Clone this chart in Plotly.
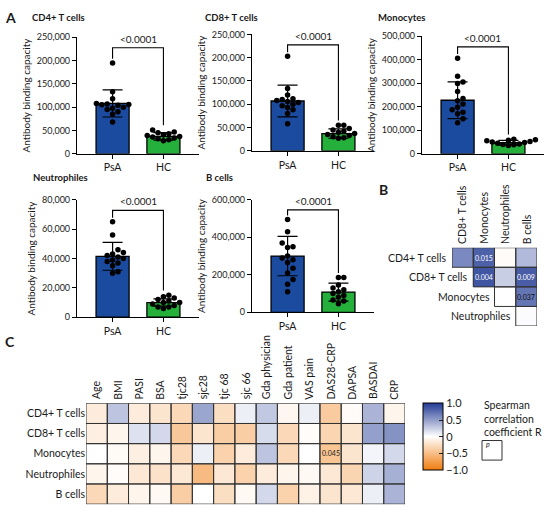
import plotly.graph_objects as go

W, H = 550, 515
FONT = "Lato"

# ---------------- Panel A data ----------------
groups = ["PsA", "HC"]
bar_titles = ["CD4+ T cells", "CD8+ T cells", "Monocytes", "Neutrophiles", "B cells"]

cd4_psa = [195000, 133000, 118000, 108000, 107000, 106000, 105000, 104000, 100000, 98000, 95000, 90000, 85000, 68000]
cd4_hc = [51000, 47000, 45000, 43000, 41000, 39000, 37000, 36000, 34000, 32000, 30000, 28000]
cd8_psa = [203000, 134000, 120000, 112000, 110000, 108000, 106000, 104000, 100000, 97000, 93000, 88000, 80000, 58000]
cd8_hc = [55000, 55000, 48000, 45000, 42000, 40000, 37000, 35000, 33000, 30000, 28000, 27000]
mono_psa = [407000, 330000, 306000, 299000, 265000, 235000, 226000, 212000, 198000, 187000, 177000, 170000, 149000, 132000]
mono_hc = [62000, 60000, 58000, 55000, 52000, 50000, 48000, 45000, 42000, 40000, 38000, 35000]
neut_psa = [65000, 56000, 46000, 44000, 43000, 42000, 41000, 40000, 39000, 38000, 37000, 35000, 31000, 30000]
neut_hc = [15000, 14000, 13000, 12000, 11000, 10000, 10000, 9000, 8000, 7000, 7000, 6000]
bcell_psa = [495000, 430000, 370000, 350000, 345000, 300000, 290000, 280000, 265000, 235000, 210000, 175000, 150000, 110000]
bcell_hc = [185000, 185000, 145000, 130000, 120000, 110000, 100000, 90000, 80000, 65000, 60000, 45000]

bar_means = [[108000, 37500], [107000, 37000], [228000, 47000], [41500, 10000], [300000, 108000]]
bar_sds = [[29000, 8000], [34000, 10000], [78000, 10000], [9500, 2500], [105000, 48000]]
y_max = [250000, 250000, 500000, 80000, 600000]
y_dtick = [50000, 50000, 100000, 20000, 200000]
p_label = "<0.0001"

points = [(cd4_psa, cd4_hc), (cd8_psa, cd8_hc), (mono_psa, mono_hc),
          (neut_psa, neut_hc), (bcell_psa, bcell_hc)]

# ---------------- Panel B data ----------------
b_cols = ["CD8+ T cells", "Monocytes", "Neutrophiles", "B cells"]
b_rows = ["CD4+ T cells", "CD8+ T cells", "Monocytes", "Neutrophiles"]
b_r = [[0.60, 0.80, -0.03, 0.35],
       [None, 0.86, 0.25, 0.82],
       [None, None, 0.00, 0.70],
       [None, None, None, 0.02]]
b_p = [["", "0.015", "", ""],
       ["", "0.004", "", "0.009"],
       ["", "", "", "0.037"],
       ["", "", "", ""]]

# ---------------- Panel C data ----------------
c_cols = ["Age", "BMI", "PASI", "BSA", "tjc28", "sjc28", "tjc 68", "sjc 66", "Gda physician",
          "Gda patient", "VAS pain", "DAS28-CRP", "DAPSA", "BASDAI", "CRP"]
c_rows = ["CD4+ T cells", "CD8+ T cells", "Monocytes", "Neutrophiles", "B cells"]
c_r = [[-0.15, 0.30, -0.15, -0.20, -0.30, 0.45, -0.25, 0.08, 0.28, -0.06, 0.08, -0.40, -0.03, 0.38, -0.08],
       [-0.12, -0.08, 0.15, 0.20, -0.42, -0.20, -0.38, -0.38, 0.18, -0.30, -0.02, -0.32, -0.20, 0.48, 0.55],
       [0.00, -0.04, -0.12, -0.08, -0.30, 0.08, -0.35, -0.15, 0.30, -0.30, 0.00, -0.45, -0.20, 0.05, 0.20],
       [-0.08, -0.02, -0.18, -0.22, -0.18, -0.52, -0.18, -0.35, -0.15, -0.08, -0.05, -0.18, -0.32, 0.22, 0.40],
       [-0.30, -0.15, -0.08, -0.05, -0.38, 0.00, -0.25, -0.05, 0.20, -0.35, -0.10, -0.20, -0.18, 0.08, 0.38]]
c_p = [[""] * 15 for _ in range(5)]
c_p[2][11] = "0.045"

cbar_vals = [-1, -0.5, 0, 0.5, 1]
cbar_text = ["\u22121.0", "\u22120.5", "0", "0.5", "1.0"]

# ---------------- styling / layout ----------------
BLUE = "#1a4b9f"
GREEN = "#25b03c"
colorscale = [[0, "rgb(240,125,15)"], [0.5, "rgb(255,255,255)"], [1, "rgb(33,58,148)"]]

# plot boxes in px: (left, right, top, bottom)
boxes = [(77, 199, 32, 151), (252, 374, 29, 148), (422, 544, 31, 151),
         (77, 199, 198, 318), (252, 374, 198, 313)]
title_pos = [(30, 12), (203, 12), (376, 12), (31, 175), (204, 175)]
XR = [-0.7, 1.7]
B_BOX = (452, 537, 247, 327)
C_BOX = (86, 405, 406, 509)


def xd(a, b):
    return [a / W, b / W]


def yd(top, bot):
    return [1 - bot / H, 1 - top / H]


def swarm(vals, ymax, hpx, wpx, d=5.4):
    scale = hpx / ymax
    unit = wpx / (XR[1] - XR[0])
    order = sorted(range(len(vals)), key=lambda i: vals[i])
    placed = []
    offs = [0.0] * len(vals)
    cands = [0.0]
    for m in range(1, 12):
        cands += [m * d, -m * d]
    for i in order:
        ypx = vals[i] * scale
        for c in cands:
            if all((c - px) ** 2 + (ypx - py) ** 2 >= d * d for px, py in placed):
                placed.append((c, ypx))
                offs[i] = c / unit
                break
    return offs


fig = go.Figure()
layout = dict(width=W, height=H, margin=dict(l=0, r=0, t=0, b=0),
              paper_bgcolor="white", plot_bgcolor="white", showlegend=False,
              font=dict(family=FONT, color="#1a1a1a"))
shapes = []
annotations = []

for k in range(5):
    n = k + 1
    xa = "x" if n == 1 else f"x{n}"
    ya = "y" if n == 1 else f"y{n}"
    l, r, t, b = boxes[k]
    fig.add_trace(go.Bar(x=[0, 1], y=bar_means[k], width=0.65, xaxis=xa, yaxis=ya,
                         marker=dict(color=[BLUE, GREEN], line=dict(color="black", width=1.3)),
                         error_y=dict(type="data", array=bar_sds[k], color="black", thickness=1.2, width=10),
                         hoverinfo="skip"))
    psa, hc = points[k]
    for gi, vals in enumerate((psa, hc)):
        offs = swarm(vals, y_max[k], b - t, r - l)
        fig.add_trace(go.Scatter(x=[gi + o for o in offs], y=vals, mode="markers", xaxis=xa, yaxis=ya,
                                 marker=dict(color="black", size=5.5), hoverinfo="skip"))
    layout["xaxis" if n == 1 else f"xaxis{n}"] = dict(
        domain=xd(l, r), anchor=ya, range=XR, tickvals=[0, 1], ticktext=groups,
        showline=True, linecolor="black", linewidth=1.2, ticks="outside", ticklen=4,
        tickcolor="black", tickfont=dict(size=10.5), showgrid=False, zeroline=False, fixedrange=True)
    layout["yaxis" if n == 1 else f"yaxis{n}"] = dict(
        domain=yd(t, b), anchor=xa, range=[0, y_max[k]], dtick=y_dtick[k], tickformat=",d",
        showline=True, linecolor="black", linewidth=1.2, ticks="outside", ticklen=4,
        tickcolor="black", tickfont=dict(size=9), showgrid=False, zeroline=False,
        title=dict(text="Antibody binding capacity", font=dict(size=10), standoff=4), fixedrange=True)
    ym = y_max[k]
    yb = 0.91 * ym
    yl = max(psa) + 0.035 * ym
    yr = max(hc) + 0.04 * ym
    shapes.append(dict(type="path", xref=xa, yref=ya,
                       path=f"M 0,{yl} L 0,{yb} L 1,{yb} L 1,{yr}",
                       line=dict(color="black", width=1.1)))
    annotations.append(dict(x=0.5, y=yb, xref=xa, yref=ya, text=p_label, showarrow=False,
                            yanchor="bottom", yshift=1, font=dict(size=10)))
    tx, ty = title_pos[k]
    annotations.append(dict(x=tx / W, y=1 - ty / H, xref="paper", yref="paper", text=f"<b>{bar_titles[k]}</b>",
                            showarrow=False, xanchor="left", yanchor="middle", font=dict(size=9.5)))

# ---------------- Panel B heatmap ----------------
fig.add_trace(go.Heatmap(z=b_r, x=list(range(4)), y=list(range(4)), coloraxis="coloraxis",
                         xaxis="x6", yaxis="y6", hoverinfo="skip"))
layout["xaxis6"] = dict(domain=xd(B_BOX[0], B_BOX[1]), anchor="y6", range=[-0.5, 3.5],
                        showticklabels=False, ticks="", showgrid=False, zeroline=False, showline=False,
                        fixedrange=True)
layout["yaxis6"] = dict(domain=yd(B_BOX[2], B_BOX[3]), anchor="x6", range=[3.5, -0.5], showticklabels=False,
                        ticks="", showgrid=False, zeroline=False, showline=False, fixedrange=True)
for j, name in enumerate(b_cols):
    annotations.append(dict(x=j, xref="x6", y=1 - (B_BOX[2] - 2) / H, yref="paper", text=name,
                            textangle=-90, showarrow=False, xanchor="center", yanchor="bottom",
                            font=dict(size=10.5)))
for i in range(4):
    for j in range(4):
        if b_r[i][j] is not None:
            shapes.append(dict(type="rect", xref="x6", yref="y6", x0=j - 0.5, x1=j + 0.5,
                               y0=i - 0.5, y1=i + 0.5, line=dict(color="#333", width=1), layer="above"))
        if b_p[i][j]:
            annotations.append(dict(x=j, y=i, xref="x6", yref="y6", text=b_p[i][j], showarrow=False,
                                    font=dict(size=7, color="white" if b_r[i][j] > 0.75 else "#111")))
    annotations.append(dict(x=i - 0.5, y=i, xref="x6", yref="y6", text=b_rows[i], showarrow=False,
                            xanchor="right", xshift=-3, font=dict(size=10.5)))

# ---------------- Panel C heatmap ----------------
fig.add_trace(go.Heatmap(z=c_r, x=list(range(15)), y=list(range(5)), text=c_p, texttemplate="%{text}",
                         textfont=dict(size=7, color="#222"), coloraxis="coloraxis", xaxis="x7", yaxis="y7",
                         hoverinfo="skip"))
layout["xaxis7"] = dict(domain=xd(C_BOX[0], C_BOX[1]), anchor="y7", range=[-0.5, 14.5],
                        showticklabels=False, ticks="", showgrid=False, zeroline=False, showline=False,
                        fixedrange=True)
layout["yaxis7"] = dict(domain=yd(C_BOX[2], C_BOX[3]), anchor="x7", range=[4.5, -0.5],
                        tickvals=list(range(5)), ticktext=c_rows, ticks="", tickfont=dict(size=10.5),
                        showgrid=False, zeroline=False, showline=False, fixedrange=True)
for j, name in enumerate(c_cols):
    annotations.append(dict(x=j, xref="x7", y=1 - (C_BOX[2] - 2) / H, yref="paper", text=name,
                            textangle=-90, showarrow=False, xanchor="center", yanchor="bottom",
                            font=dict(size=10.5)))
for i in range(5):
    for j in range(15):
        shapes.append(dict(type="rect", xref="x7", yref="y7", x0=j - 0.5, x1=j + 0.5,
                           y0=i - 0.5, y1=i + 0.5, line=dict(color="#333", width=1), layer="above"))

layout["coloraxis"] = dict(
    colorscale=colorscale, cmin=-1, cmax=1,
    colorbar=dict(x=423 / W, xanchor="left", y=1 - 406 / H, yanchor="top", len=67, lenmode="pixels",
                  thickness=20, thicknessmode="pixels", outlinewidth=1, outlinecolor="black",
                  tickvals=cbar_vals, ticktext=cbar_text, ticks="inside", ticklen=4, tickcolor="#222",
                  tickfont=dict(size=11), xpad=0, ypad=0))

annotations.append(dict(x=482 / W, y=1 - 400 / H, xref="paper", yref="paper",
                        text="Spearman<br>correlation<br>coefficient R", showarrow=False, xanchor="left",
                        yanchor="top", align="left", font=dict(size=10.5)))
shapes.append(dict(type="rect", xref="paper", yref="paper", x0=482 / W, x1=502 / W,
                   y0=1 - 464 / H, y1=1 - 444 / H, line=dict(color="#333", width=1)))
annotations.append(dict(x=492 / W, y=1 - 454 / H, xref="paper", yref="paper", text="<i>p</i>",
                        showarrow=False, font=dict(size=7)))

# panel letters
for letter, (px, py) in {"A": (10, 12), "B": (383, 187), "C": (10, 343)}.items():
    annotations.append(dict(x=px / W, y=1 - py / H, xref="paper", yref="paper", text=f"<b>{letter}</b>",
                            showarrow=False, xanchor="center", yanchor="middle", font=dict(size=14)))

layout["shapes"] = shapes
layout["annotations"] = annotations
fig.update_layout(**layout)
fig.write_html("out.html", config={"displayModeBar": False},
               post_script="document.body.style.margin='0';")
